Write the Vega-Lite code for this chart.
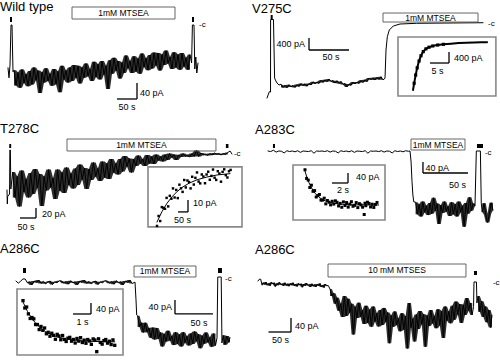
{
"$schema":"https://vega.github.io/schema/vega-lite/v6.json",
"padding":0,
"spacing":0,
"config":{"view":{"stroke":null},"font":"Liberation Sans","text":{"font":"Liberation Sans","color":"#000"},"line":{"strokeJoin":"round","strokeCap":"round"},"area":{"color":"#000","opacity":0.82}},
"datasets":{
"t1":[{"t":0,"i":-107},{"t":2.5,"i":-132},{"t":5,"i":-100},{"t":7.5,"i":0},{"t":10,"i":0},{"t":12.5,"i":-117},{"t":15,"i":-113},{"t":20,"i":-151},{"t":25,"i":-119},{"t":30,"i":-157},{"t":35,"i":-111},{"t":40,"i":-145},{"t":45,"i":-123},{"t":50,"i":-153},{"t":55,"i":-115},{"t":60,"i":-149},{"t":65,"i":-106},{"t":70,"i":-138},{"t":75,"i":-114},{"t":80,"i":-170},{"t":85,"i":-118},{"t":90,"i":-144},{"t":95,"i":-108},{"t":100,"i":-140},{"t":105,"i":-122},{"t":110,"i":-152},{"t":115,"i":-110},{"t":120,"i":-148},{"t":125,"i":-116},{"t":130,"i":-168},{"t":135,"i":-102},{"t":140,"i":-136},{"t":145,"i":-114},{"t":150,"i":-144},{"t":155,"i":-106},{"t":160,"i":-140},{"t":165,"i":-100},{"t":170,"i":-132},{"t":175,"i":-102},{"t":180,"i":-146},{"t":185,"i":-106},{"t":190,"i":-132},{"t":195,"i":-96},{"t":200,"i":-128},{"t":205,"i":-110},{"t":210,"i":-140},{"t":215,"i":-92},{"t":220,"i":-130},{"t":225,"i":-98},{"t":230,"i":-136},{"t":235,"i":-90},{"t":240,"i":-124},{"t":245,"i":-102},{"t":250,"i":-160},{"t":255,"i":-88},{"t":260,"i":-122},{"t":265,"i":-82},{"t":270,"i":-114},{"t":275,"i":-90},{"t":280,"i":-134},{"t":285,"i":-94},{"t":290,"i":-120},{"t":295,"i":-76},{"t":300,"i":-108},{"t":305,"i":-90},{"t":310,"i":-120},{"t":315,"i":-78},{"t":320,"i":-116},{"t":325,"i":-84},{"t":330,"i":-122},{"t":335,"i":-71},{"t":340,"i":-105},{"t":345,"i":-83},{"t":350,"i":-113},{"t":355,"i":-75},{"t":360,"i":-109},{"t":365,"i":-69},{"t":370,"i":-101},{"t":375,"i":-70},{"t":380,"i":-114},{"t":385,"i":-74},{"t":390,"i":-100},{"t":395,"i":-64},{"t":400,"i":-96},{"t":405,"i":-80},{"t":410,"i":-110},{"t":415,"i":-68},{"t":420,"i":-106},{"t":425,"i":-74},{"t":430,"i":-112},{"t":435,"i":-70},{"t":440,"i":-104},{"t":445,"i":-82},{"t":450,"i":-112},{"t":455,"i":-74},{"t":459,"i":-95},{"t":461,"i":0},{"t":465,"i":0},{"t":467,"i":-110},{"t":469.5,"i":-80},{"t":472,"i":-120},{"t":475,"i":-95}],
"a1":[{"r":"mk","t":5,"t2":10,"i":20,"i2":7.5},{"r":"mk","t":460,"t2":465,"i":20,"i2":7.5},{"r":"bx","t":160,"t2":417.5,"i":45,"i2":15},{"r":"sb","t":322.5,"t2":322.5,"i":-145,"i2":-185},{"r":"sb","t":272.5,"t2":322.5,"i":-185,"i2":-185},{"r":"name","t":-20,"i":35,"s":"Wild type"},{"r":"stim","t":288.75,"i":30,"s":"1mM MTSEA"},{"r":"amp","t":330,"i":-170,"s":"40 pA"},{"r":"time","t":297.5,"i":-205,"s":"50 s"},{"r":"c","t":477.5,"i":0,"s":"-c"}],
"t2":[{"t":0,"i":-2500},{"t":2.9,"i":-2290},{"t":4.4,"i":-2300},{"t":4.5,"i":117},{"t":8.1,"i":117},{"t":9.5,"i":-1833},{"t":10.5,"i":-1900},{"t":12.5,"i":-2000},{"t":15,"i":-2067},{"t":17.5,"i":-2040},{"t":20,"i":-2150},{"t":22.5,"i":-2075},{"t":25,"i":-2160},{"t":27.5,"i":-2055},{"t":30,"i":-2130},{"t":32.5,"i":-2080},{"t":35,"i":-2148},{"t":37.5,"i":-2052},{"t":40,"i":-2120},{"t":42.5,"i":-2018},{"t":45,"i":-2092},{"t":47.5,"i":-2026},{"t":50,"i":-2109},{"t":52.5,"i":-2013},{"t":55,"i":-2066},{"t":57.5,"i":-1960},{"t":60,"i":-2024},{"t":62.5,"i":-1964},{"t":65,"i":-2013},{"t":67.5,"i":-1907},{"t":70,"i":-1981},{"t":72.5,"i":-1891},{"t":75,"i":-1960},{"t":77.5,"i":-1866},{"t":80,"i":-1953},{"t":82.5,"i":-1914},{"t":85,"i":-2001},{"t":87.5,"i":-1922},{"t":90,"i":-2019},{"t":92.5,"i":-1946},{"t":95,"i":-2048},{"t":97.5,"i":-2015},{"t":100,"i":-2132},{"t":102.5,"i":-2030},{"t":105,"i":-2079},{"t":107.5,"i":-1967},{"t":110,"i":-2030},{"t":112.5,"i":-1968},{"t":115,"i":-2017},{"t":117.5,"i":-1910},{"t":120,"i":-1983},{"t":122.5,"i":-1890},{"t":125,"i":-1957},{"t":127.5,"i":-1834},{"t":130,"i":-1891},{"t":132.5,"i":-1823},{"t":135,"i":-1898},{"t":137.5,"i":-1808},{"t":140,"i":-1883},{"t":142.5,"i":-1788},{"t":145,"i":-1895},{"t":147.5,"i":-1843},{"t":148.75,"i":-900},{"t":150.4,"i":-457},{"t":152.9,"i":-233},{"t":157.9,"i":-100},{"t":166.25,"i":-33},{"t":187,"i":-10},{"t":270,"i":10}],
"a2":[{"r":"mk","t":4.6,"t2":7.1,"i":267,"i2":133},{"r":"bx","t":145,"t2":263.75,"i":333,"i2":33},{"r":"sb","t":52.5,"t2":52.5,"i":-500,"i2":-900},{"r":"sb","t":52.5,"t2":102.5,"i":-900,"i2":-900},{"r":"name","t":-18.75,"i":333,"s":"V275C"},{"r":"stim","t":204.4,"i":183,"s":"1mM MTSEA"},{"r":"amp","t":47.5,"i":-700,"s":"400 pA"},{"r":"time","t":80,"i":-1133,"s":"50 s"},{"r":"c","t":276.25,"i":-33,"s":"-c"}],
"i2":[{"r":"bx","t":-3.95,"t2":21.8,"i":182,"i2":-1963},{"r":"sb","t":9.47,"t2":9.47,"i":-364,"i2":-764},{"r":"sb","t":4.47,"t2":9.47,"i":-764,"i2":-764},{"r":"amp","t":10.8,"i":-582,"s":"400 pA"},{"r":"time","t":6.44,"i":-1055,"s":"5 s"}],
"f2":[{"t":0,"i":-1745},{"t":0.5,"i":-1350},{"t":1,"i":-1000},{"t":1.5,"i":-730},{"t":2,"i":-530},{"t":2.5,"i":-390},{"t":3,"i":-300},{"t":3.5,"i":-240},{"t":4,"i":-200},{"t":5,"i":-150},{"t":6,"i":-120},{"t":8,"i":-85},{"t":10,"i":-60},{"t":12,"i":-40},{"t":14,"i":-25},{"t":16,"i":-15},{"t":18,"i":-8},{"t":19.5,"i":-5}],
"s2":[{"t":0.3,"i":-1500},{"t":0.7,"i":-1200},{"t":1.1,"i":-940},{"t":1.6,"i":-690},{"t":2.1,"i":-500},{"t":2.7,"i":-350},{"t":3.4,"i":-250},{"t":4.2,"i":-190},{"t":5.2,"i":-145},{"t":6.5,"i":-110},{"t":8,"i":-85}],
"t3":[{"t":0,"i":-72},{"t":1,"i":-100},{"t":2,"i":-85},{"t":8,"i":-80},{"t":9,"i":8},{"t":10.5,"i":8},{"t":12,"i":-70},{"t":18,"i":-36},{"t":25,"i":-87},{"t":32,"i":-45},{"t":39,"i":-105},{"t":46,"i":-33},{"t":53,"i":-76},{"t":60,"i":-50},{"t":67,"i":-87},{"t":74,"i":-38},{"t":81,"i":-80},{"t":88,"i":-30},{"t":95,"i":-68},{"t":102,"i":-40},{"t":109,"i":-104},{"t":116,"i":-45},{"t":123,"i":-73},{"t":130,"i":-31},{"t":137,"i":-67},{"t":144,"i":-48},{"t":151,"i":-90},{"t":158,"i":-31},{"t":165,"i":-73},{"t":172,"i":-37},{"t":179,"i":-78},{"t":186,"i":-27},{"t":193,"i":-62},{"t":200,"i":-39},{"t":207,"i":-69},{"t":214,"i":-29},{"t":221,"i":-62},{"t":228,"i":-21},{"t":235,"i":-51},{"t":242,"i":-28},{"t":249,"i":-70},{"t":256,"i":-30},{"t":263,"i":-52},{"t":270,"i":-17},{"t":277,"i":-45},{"t":284,"i":-29},{"t":291,"i":-54},{"t":298,"i":-15},{"t":305,"i":-47},{"t":312,"i":-19},{"t":319,"i":-50},{"t":326,"i":-10},{"t":333,"i":-37},{"t":340,"i":-19},{"t":347,"i":-41},{"t":354,"i":-10},{"t":361,"i":-35},{"t":368,"i":-4},{"t":375,"i":-25},{"t":382,"i":-9},{"t":389,"i":-37},{"t":396,"i":-10},{"t":403,"i":-24},{"t":410,"i":-3},{"t":417,"i":-19},{"t":424,"i":-10},{"t":431,"i":-24},{"t":438,"i":-2},{"t":445,"i":-19},{"t":452,"i":-5},{"t":459,"i":-20},{"t":466,"i":-1},{"t":473,"i":-13},{"t":480,"i":-5},{"t":487,"i":-15},{"t":494,"i":-1},{"t":501,"i":-12},{"t":508,"i":1},{"t":515,"i":-7},{"t":522,"i":-1},{"t":529,"i":-12},{"t":536,"i":-2},{"t":543,"i":-6},{"t":550,"i":1},{"t":557,"i":-5},{"t":564,"i":-2},{"t":571,"i":-6},{"t":578,"i":1},{"t":585,"i":-5},{"t":592,"i":7},{"t":599,"i":-5},{"t":606,"i":2},{"t":613,"i":-2},{"t":620,"i":0},{"t":627,"i":-3},{"t":634,"i":1},{"t":641,"i":-2},{"t":648,"i":2},{"t":655,"i":-1},{"t":662,"i":1},{"t":669,"i":-2},{"t":676,"i":1},{"t":683,"i":-1},{"t":690,"i":3},{"t":697,"i":6},{"t":703,"i":0}],
"a3":[{"r":"mk","t":7,"t2":13,"i":20,"i2":12},{"r":"mk","t":684,"t2":692,"i":20,"i2":12},{"r":"bx","t":187.5,"t2":653,"i":30,"i2":6},{"r":"sb","t":90.6,"t2":90.6,"i":-108,"i2":-128},{"r":"sb","t":40.6,"t2":90.6,"i":-128,"i2":-128},{"r":"name","t":-21.875,"i":42,"s":"T278C"},{"r":"stim","t":420,"i":18,"s":"1mM MTSEA"},{"r":"amp","t":109,"i":-120,"s":"20 pA"},{"r":"time","t":59,"i":-146,"s":"50 s"},{"r":"c","t":709,"i":0,"s":"-c"}],
"i3":[{"r":"bx","t":-45,"t2":425,"i":4.2,"i2":-45.8},{"r":"sb","t":155,"t2":155,"i":-23.3,"i2":-33.3},{"r":"sb","t":105,"t2":155,"i":-33.3,"i2":-33.3},{"r":"amp","t":180,"i":-25.8,"s":"10 pA"},{"r":"time","t":127.5,"i":-40,"s":"50 s"}],
"f3":[{"t":0,"i":-41.7},{"t":25,"i":-33},{"t":50,"i":-26.1},{"t":75,"i":-20.7},{"t":100,"i":-16.4},{"t":130,"i":-12.4},{"t":160,"i":-9.4},{"t":200,"i":-6.5},{"t":250,"i":-4.2},{"t":300,"i":-2.5},{"t":365,"i":-1.4}],
"s3":[{"t":0,"i":-45},{"t":8,"i":-36.7},{"t":16,"i":-40.9},{"t":24,"i":-29.3},{"t":32,"i":-29.9},{"t":40,"i":-30.7},{"t":48,"i":-21.6},{"t":56,"i":-28.7},{"t":64,"i":-19.9},{"t":72,"i":-22.3},{"t":80,"i":-13.7},{"t":88,"i":-21.3},{"t":96,"i":-15},{"t":104,"i":-21.8},{"t":112,"i":-10.6},{"t":120,"i":-13.6},{"t":128,"i":-16.6},{"t":136,"i":-6.7},{"t":144,"i":-12.9},{"t":152,"i":-7.1},{"t":160,"i":-8.4},{"t":168,"i":-13.7},{"t":176,"i":-4},{"t":184,"i":-10.5},{"t":192,"i":-4.9},{"t":200,"i":-0.4},{"t":208,"i":-8},{"t":216,"i":-9.5},{"t":224,"i":-2.1},{"t":232,"i":-3.8},{"t":240,"i":-9.4},{"t":248,"i":-2.1},{"t":256,"i":0.2},{"t":264,"i":-6.5},{"t":272,"i":-3.3},{"t":280,"i":2},{"t":288,"i":-4.8},{"t":296,"i":-6.6},{"t":304,"i":0.6},{"t":312,"i":-1.3},{"t":320,"i":-8.1},{"t":328,"i":0.1},{"t":336,"i":2.2},{"t":344,"i":-2.7},{"t":352,"i":-4.6},{"t":360,"i":0.6},{"t":368,"i":1.7}],
"t4":[{"t":0,"i":0},{"t":3,"i":-2},{"t":6,"i":3},{"t":9,"i":-4},{"t":12,"i":0},{"t":15,"i":-1},{"t":18,"i":-7},{"t":21,"i":1},{"t":24,"i":-2},{"t":27,"i":0},{"t":30,"i":-3},{"t":33,"i":1},{"t":36,"i":-5},{"t":39,"i":0},{"t":42,"i":-1},{"t":45,"i":-2},{"t":48,"i":1},{"t":51,"i":-8},{"t":54,"i":0},{"t":57,"i":-1},{"t":60,"i":0},{"t":63,"i":-2},{"t":66,"i":1},{"t":69,"i":-4},{"t":72,"i":0},{"t":75,"i":-1},{"t":78,"i":-7},{"t":81,"i":1},{"t":84,"i":-2},{"t":87,"i":0},{"t":90,"i":-3},{"t":93,"i":1},{"t":96,"i":-5},{"t":99,"i":0},{"t":102,"i":-1},{"t":105,"i":-2},{"t":108,"i":1},{"t":111,"i":-8},{"t":114,"i":0},{"t":117,"i":-1},{"t":120,"i":0},{"t":123,"i":-2},{"t":126,"i":1},{"t":129,"i":-4},{"t":132,"i":0},{"t":135,"i":-1},{"t":138,"i":-7},{"t":141,"i":1},{"t":144,"i":-2},{"t":147,"i":0},{"t":150,"i":-3},{"t":153,"i":1},{"t":156,"i":-1},{"t":157.8,"i":0},{"t":159,"i":-40},{"t":160,"i":-110},{"t":161,"i":-160},{"t":162,"i":-185},{"t":164,"i":-186},{"t":166,"i":-230},{"t":168,"i":-194},{"t":170,"i":-238},{"t":172,"i":-184},{"t":174,"i":-223},{"t":176,"i":-199},{"t":178,"i":-233},{"t":180,"i":-189},{"t":182,"i":-228},{"t":184,"i":-170},{"t":186,"i":-217},{"t":188,"i":-191},{"t":190,"i":-265},{"t":192,"i":-197},{"t":194,"i":-225},{"t":196,"i":-184},{"t":198,"i":-220},{"t":200,"i":-202},{"t":202,"i":-236},{"t":204,"i":-186},{"t":206,"i":-230},{"t":208,"i":-194},{"t":210,"i":-238},{"t":212,"i":-184},{"t":214,"i":-223},{"t":216,"i":-199},{"t":218,"i":-275},{"t":220,"i":-189},{"t":222,"i":-228},{"t":224,"i":-168},{"t":226,"i":-217},{"t":228,"i":-191},{"t":230,"i":-200},{"t":231.5,"i":0},{"t":236,"i":0},{"t":237,"i":-190},{"t":238,"i":-222},{"t":240,"i":-190},{"t":242,"i":-232},{"t":244,"i":-260},{"t":246,"i":-228},{"t":248,"i":-188},{"t":250,"i":-215}],
"a4":[{"r":"mk","t":5.5,"t2":7.8,"i":25.5,"i2":10.9},{"r":"mk","t":232.2,"t2":238.9,"i":25.5,"i2":10.9},{"r":"bx","t":158.9,"t2":218.9,"i":43.6,"i2":3.6},{"r":"sb","t":172.2,"t2":172.2,"i":-40,"i2":-80},{"r":"sb","t":172.2,"t2":222.2,"i":-80,"i2":-80},{"r":"name","t":-14.4,"i":61.8,"s":"A283C"},{"r":"stim","t":188.9,"i":23.6,"s":"1mM MTSEA"},{"r":"amp","t":175,"i":-62,"s":"40 pA"},{"r":"time","t":210.5,"i":-124,"s":"50 s"},{"r":"c","t":241,"i":-7,"s":"-c"}],
"i4":[{"r":"bx","t":-1.5,"t2":10,"i":168,"i2":-52},{"r":"sb","t":5.375,"t2":5.375,"i":136,"i2":96},{"r":"sb","t":3.375,"t2":5.375,"i":96,"i2":96},{"r":"amp","t":6.375,"i":120,"s":"40 pA"},{"r":"time","t":4.75,"i":68,"s":"2 s"}],
"f4":[{"t":0,"i":143},{"t":0.25,"i":117.6},{"t":0.5,"i":97},{"t":0.75,"i":80.2},{"t":1,"i":66.7},{"t":1.25,"i":55.6},{"t":1.5,"i":46.7},{"t":2,"i":33.5},{"t":2.5,"i":24.9},{"t":3,"i":19.1},{"t":3.5,"i":15.3},{"t":4,"i":12.9},{"t":5,"i":10.1},{"t":6,"i":8.9},{"t":7,"i":8.4},{"t":8,"i":8.2},{"t":9.2,"i":8.1}],
"s4":[{"t":0,"i":149},{"t":0.2,"i":114.3},{"t":0.4,"i":107.8},{"t":0.6,"i":77.9},{"t":0.8,"i":87.3},{"t":1,"i":62.7},{"t":1.2,"i":65.7},{"t":1.4,"i":40},{"t":1.6,"i":45.6},{"t":1.8,"i":50.1},{"t":2,"i":27.5},{"t":2.2,"i":27.6},{"t":2.4,"i":35.3},{"t":2.6,"i":12.5},{"t":2.8,"i":26.1},{"t":3,"i":19.1},{"t":3.2,"i":8.4},{"t":3.4,"i":22.9},{"t":3.6,"i":11.7},{"t":3.8,"i":24.7},{"t":4,"i":18.8},{"t":4.2,"i":4.1},{"t":4.4,"i":14.5},{"t":4.6,"i":-1.1},{"t":4.8,"i":20.5},{"t":5,"i":6.1},{"t":5.2,"i":17.8},{"t":5.4,"i":-0.5},{"t":5.6,"i":11.3},{"t":5.8,"i":21.1},{"t":6,"i":2.9},{"t":6.2,"i":6.8},{"t":6.4,"i":17.7},{"t":6.6,"i":-2.4},{"t":6.8,"i":13.5},{"t":7,"i":8.4},{"t":7.2,"i":-0.8},{"t":7.4,"i":-30},{"t":7.5,"i":15.2},{"t":7.6,"i":5.2},{"t":7.8,"i":19.2},{"t":8,"i":14.2},{"t":8.2,"i":0.2},{"t":8.4,"i":11.2},{"t":8.6,"i":-1.8},{"t":8.8,"i":10.2},{"t":9,"i":18.2}],
"t5":[{"t":0,"i":-3},{"t":3,"i":-9},{"t":6,"i":-4},{"t":9,"i":3},{"t":12,"i":3},{"t":15,"i":-8},{"t":18,"i":-5},{"t":21,"i":-14},{"t":24,"i":-3},{"t":27,"i":-7},{"t":30,"i":0},{"t":33,"i":-10},{"t":36,"i":-4},{"t":39,"i":-11},{"t":42,"i":-6},{"t":45,"i":-3},{"t":48,"i":-13},{"t":51,"i":-5},{"t":54,"i":-8},{"t":57,"i":-2},{"t":60,"i":-3},{"t":63,"i":-9},{"t":66,"i":-4},{"t":69,"i":-12},{"t":72,"i":-2},{"t":75,"i":-8},{"t":78,"i":-5},{"t":81,"i":-14},{"t":84,"i":-3},{"t":87,"i":-7},{"t":90,"i":0},{"t":93,"i":-10},{"t":96,"i":-4},{"t":99,"i":-11},{"t":102,"i":-6},{"t":105,"i":-3},{"t":108,"i":-13},{"t":111,"i":-5},{"t":114,"i":-8},{"t":117,"i":-2},{"t":120,"i":-3},{"t":123,"i":-9},{"t":126,"i":-4},{"t":129,"i":-12},{"t":132,"i":-2},{"t":135,"i":-8},{"t":138,"i":-5},{"t":141,"i":-14},{"t":144,"i":-3},{"t":147,"i":-7},{"t":150,"i":0},{"t":153,"i":-10},{"t":156.6,"i":-6},{"t":157.9,"i":-57},{"t":158.8,"i":-100},{"t":160,"i":-102},{"t":162.5,"i":-134},{"t":165,"i":-122},{"t":167.5,"i":-150},{"t":170,"i":-122},{"t":172.5,"i":-149},{"t":175,"i":-137},{"t":177.5,"i":-165},{"t":180,"i":-136},{"t":182.5,"i":-170},{"t":185,"i":-137},{"t":187.5,"i":-168},{"t":190,"i":-150},{"t":192.5,"i":-190},{"t":195,"i":-154},{"t":197.5,"i":-176},{"t":200,"i":-145},{"t":202.5,"i":-173},{"t":205,"i":-160},{"t":207.5,"i":-186},{"t":210,"i":-149},{"t":212.5,"i":-183},{"t":215,"i":-156},{"t":217.5,"i":-190},{"t":220,"i":-149},{"t":222.5,"i":-179},{"t":225,"i":-161},{"t":227.5,"i":-187},{"t":230,"i":-153},{"t":232.5,"i":-183},{"t":235,"i":-147},{"t":237.5,"i":-175},{"t":240,"i":-155},{"t":242.5,"i":-195},{"t":245,"i":-159},{"t":247.5,"i":-182},{"t":250,"i":-150},{"t":252.5,"i":-178},{"t":255,"i":-164},{"t":257.5,"i":-191},{"t":260,"i":-153},{"t":262.5,"i":-187},{"t":264.5,"i":-165},{"t":265.5,"i":8.6},{"t":270,"i":8.6},{"t":271,"i":-180},{"t":272.5,"i":-158},{"t":275,"i":-185},{"t":277.5,"i":-160},{"t":280,"i":-178},{"t":281.5,"i":-165}],
"a5":[{"r":"mk","t":9.2,"t2":13.2,"i":34.3,"i2":20},{"r":"mk","t":265.8,"t2":271,"i":34.3,"i2":20},{"r":"bx","t":155.3,"t2":236.8,"i":40,"i2":8.6},{"r":"sb","t":209.2,"t2":209.2,"i":-57,"i2":-97},{"r":"sb","t":209.2,"t2":259.2,"i":-97,"i2":-97},{"r":"name","t":-21.05,"i":77.1,"s":"A286C"},{"r":"stim","t":196,"i":24.3,"s":"1mM MTSEA"},{"r":"amp","t":205.3,"i":-77,"s":"40 pA"},{"r":"time","t":240.8,"i":-123,"s":"50 s"},{"r":"c","t":275,"i":2.9,"s":"-c"}],
"i5":[{"r":"bx","t":-0.334,"t2":5.56,"i":192.9,"i2":-47.3},{"r":"sb","t":3.78,"t2":3.78,"i":142,"i2":102},{"r":"sb","t":2.78,"t2":3.78,"i":102,"i2":102},{"r":"amp","t":4.06,"i":120,"s":"40 pA"},{"r":"time","t":3.31,"i":72.8,"s":"1 s"}],
"f5":[{"t":0,"i":145.6},{"t":0.25,"i":111},{"t":0.5,"i":85},{"t":0.75,"i":65},{"t":1,"i":49.6},{"t":1.25,"i":38},{"t":1.5,"i":29},{"t":1.75,"i":22},{"t":2,"i":17},{"t":2.5,"i":9.9},{"t":3,"i":5.8},{"t":3.5,"i":3.4},{"t":4,"i":2},{"t":4.5,"i":1.2},{"t":5.1,"i":0.6}],
"s5":[{"t":0,"i":150.6},{"t":0.1,"i":123.8},{"t":0.2,"i":127.4},{"t":0.3,"i":102.4},{"t":0.4,"i":85.7},{"t":0.5,"i":89},{"t":0.6,"i":84.4},{"t":0.7,"i":63.6},{"t":0.8,"i":63.6},{"t":0.9,"i":45.3},{"t":1,"i":56.6},{"t":1.1,"i":42.6},{"t":1.2,"i":51},{"t":1.3,"i":30},{"t":1.4,"i":35.3},{"t":1.5,"i":21},{"t":1.6,"i":32},{"t":1.7,"i":24.4},{"t":1.8,"i":10},{"t":1.9,"i":27.9},{"t":2,"i":21.9},{"t":2.1,"i":8.2},{"t":2.2,"i":23.7},{"t":2.3,"i":9.3},{"t":2.4,"i":2},{"t":2.5,"i":13.9},{"t":2.6,"i":16.9},{"t":2.7,"i":3},{"t":2.8,"i":9.2},{"t":2.9,"i":-3.6},{"t":3,"i":12.8},{"t":3.1,"i":3.2},{"t":3.2,"i":15.7},{"t":3.3,"i":-1.8},{"t":3.4,"i":6.8},{"t":3.5,"i":-4.6},{"t":3.6,"i":9},{"t":3.7,"i":3.7},{"t":3.8,"i":-8.6},{"t":3.9,"i":11.2},{"t":4,"i":7},{"t":4.1,"i":-35},{"t":4.2,"i":11.6},{"t":4.3,"i":-1.6},{"t":4.4,"i":-7.7},{"t":4.5,"i":5.2},{"t":4.6,"i":9},{"t":4.7,"i":-4.1},{"t":4.8,"i":2.8},{"t":4.9,"i":-9.3},{"t":5,"i":7.7},{"t":5.1,"i":-12}],
"t6":[{"t":0,"i":3},{"t":3,"i":8},{"t":6,"i":8},{"t":9,"i":-9},{"t":12,"i":-2},{"t":15,"i":-7},{"t":18,"i":0},{"t":21,"i":-9},{"t":24,"i":-4},{"t":27,"i":-11},{"t":30,"i":-1},{"t":33,"i":-6},{"t":36,"i":-2},{"t":39,"i":-13},{"t":42,"i":-4},{"t":45,"i":-9},{"t":48,"i":-1},{"t":51,"i":-8},{"t":54,"i":-5},{"t":57,"i":-11},{"t":60,"i":-2},{"t":63,"i":-10},{"t":66,"i":-5},{"t":69,"i":-12},{"t":72,"i":-4},{"t":75,"i":-9},{"t":78,"i":-2},{"t":81,"i":-11},{"t":84,"i":-6},{"t":87,"i":-13},{"t":90,"i":-4},{"t":93,"i":-9},{"t":96,"i":-5},{"t":99,"i":-15},{"t":102,"i":-6},{"t":105,"i":-11},{"t":108,"i":-3},{"t":111,"i":-10},{"t":114,"i":-7},{"t":117,"i":-14},{"t":120,"i":-5},{"t":123,"i":-12},{"t":126,"i":-7},{"t":129,"i":-14},{"t":132,"i":-6},{"t":135,"i":-11},{"t":138,"i":-4},{"t":141,"i":-14},{"t":144,"i":-9},{"t":147,"i":-16},{"t":150,"i":-6},{"t":153,"i":-11},{"t":156,"i":-10},{"t":160,"i":-20},{"t":164,"i":-40},{"t":168,"i":-32},{"t":172,"i":-62},{"t":176,"i":-45},{"t":180,"i":-82},{"t":184,"i":-62},{"t":188,"i":-100},{"t":192,"i":-40},{"t":196,"i":-97},{"t":200,"i":-48},{"t":204,"i":-88},{"t":208,"i":-62},{"t":212,"i":-150},{"t":216,"i":-71},{"t":220,"i":-103},{"t":224,"i":-59},{"t":228,"i":-100},{"t":232,"i":-81},{"t":236,"i":-120},{"t":240,"i":-68},{"t":244,"i":-117},{"t":248,"i":-79},{"t":252,"i":-128},{"t":256,"i":-70},{"t":260,"i":-113},{"t":264,"i":-89},{"t":268,"i":-127},{"t":272,"i":-80},{"t":276,"i":-123},{"t":280,"i":-74},{"t":284,"i":-114},{"t":288,"i":-87},{"t":292,"i":-175},{"t":296,"i":-96},{"t":300,"i":-128},{"t":304,"i":-84},{"t":308,"i":-123},{"t":312,"i":-104},{"t":316,"i":-141},{"t":320,"i":-89},{"t":324,"i":-136},{"t":328,"i":-98},{"t":332,"i":-190},{"t":336,"i":-60},{"t":340,"i":-130},{"t":344,"i":-105},{"t":348,"i":-170},{"t":352,"i":-93},{"t":356,"i":-134},{"t":360,"i":-83},{"t":364,"i":-121},{"t":368,"i":-92},{"t":372,"i":-185},{"t":376,"i":-96},{"t":380,"i":-126},{"t":384,"i":-80},{"t":388,"i":-118},{"t":392,"i":-97},{"t":396,"i":-132},{"t":400,"i":-78},{"t":404,"i":-124},{"t":408,"i":-83},{"t":412,"i":-160},{"t":416,"i":-70},{"t":420,"i":-110},{"t":424,"i":-84},{"t":428,"i":-118},{"t":432,"i":-68},{"t":436,"i":-108},{"t":440,"i":-56},{"t":444,"i":-93},{"t":448,"i":-63},{"t":452,"i":-117},{"t":456,"i":-65},{"t":460,"i":-94},{"t":464,"i":-46},{"t":468,"i":-82},{"t":472,"i":-60},{"t":476,"i":-94},{"t":479,"i":-70},{"t":480,"i":0},{"t":485.5,"i":0},{"t":486.5,"i":-60},{"t":489,"i":-40},{"t":493,"i":-85},{"t":497,"i":-55},{"t":501,"i":-100},{"t":505,"i":-70},{"t":509,"i":-115},{"t":513,"i":-80},{"t":517,"i":-130},{"t":520,"i":-95}],
"a6":[{"r":"mk","t":480,"t2":486.7,"i":31.4,"i2":20},{"r":"bx","t":155.6,"t2":462.2,"i":51.4,"i2":14.3},{"r":"sb","t":73.3,"t2":73.3,"i":-102.9,"i2":-142.9},{"r":"sb","t":23.3,"t2":73.3,"i":-142.9,"i2":-142.9},{"r":"name","t":-6.7,"i":80,"s":"A286C"},{"r":"stim","t":308.9,"i":32.9,"s":"10 mM MTSES"},{"r":"amp","t":82.2,"i":-125.7,"s":"40 pA"},{"r":"time","t":50,"i":-165.7,"s":"50 s"},{"r":"c","t":522,"i":-2.9,"s":"-c"}]
},
"vconcat":[
{"hconcat":[
{"width":250,"height":120,
 "encoding":{"x":{"field":"t","type":"quantitative","scale":{"domain":[-20,605],"nice":false,"zero":false},"axis":null},"y":{"field":"i","type":"quantitative","scale":{"domain":[-237.5,62.5],"nice":false,"zero":false},"axis":null}},
 "layer":[
  {"data":{"name":"t1"},"transform":[{"filter":"datum.t>=15 && datum.t<=455"},{"window":[{"op":"min","field":"i","as":"lo"},{"op":"max","field":"i","as":"hi"}],"frame":[-1,1],"sort":[{"field":"t"}]}],"mark":{"type":"area"},"encoding":{"y":{"field":"lo","type":"quantitative","scale":{"domain":[-237.5,62.5],"nice":false,"zero":false},"axis":null},"y2":{"field":"hi"}}},
  {"data":{"name":"t1"},"mark":{"type":"line","color":"#000","strokeWidth":1}},
  {"data":{"name":"a1"},"transform":[{"filter":"datum.r=='mk'"}],"mark":{"type":"rect","color":"#000"},"encoding":{"x2":{"field":"t2"},"y2":{"field":"i2"}}},
  {"data":{"name":"a1"},"transform":[{"filter":"datum.r=='bx'"}],"mark":{"type":"rect","fill":"transparent","stroke":"#555","strokeWidth":0.9},"encoding":{"x2":{"field":"t2"},"y2":{"field":"i2"}}},
  {"data":{"name":"a1"},"transform":[{"filter":"datum.r=='sb'"}],"mark":{"type":"rule","color":"#000","strokeWidth":1.3},"encoding":{"x2":{"field":"t2"},"y2":{"field":"i2"}}},
  {"data":{"name":"a1"},"transform":[{"filter":"datum.r=='name'"}],"mark":{"type":"text","fontSize":13,"align":"left","baseline":"alphabetic"},"encoding":{"text":{"field":"s"}}},
  {"data":{"name":"a1"},"transform":[{"filter":"datum.r=='stim'"}],"mark":{"type":"text","fontSize":8.5,"align":"center","baseline":"middle"},"encoding":{"text":{"field":"s"}}},
  {"data":{"name":"a1"},"transform":[{"filter":"datum.r=='amp'"}],"mark":{"type":"text","fontSize":9,"align":"left","baseline":"middle"},"encoding":{"text":{"field":"s"}}},
  {"data":{"name":"a1"},"transform":[{"filter":"datum.r=='time'"}],"mark":{"type":"text","fontSize":9,"align":"center","baseline":"middle"},"encoding":{"text":{"field":"s"}}},
  {"data":{"name":"a1"},"transform":[{"filter":"datum.r=='c'"}],"mark":{"type":"text","fontSize":8,"align":"left","baseline":"middle"},"encoding":{"text":{"field":"s"}}}
 ]},
{"width":250,"height":120,
 "resolve":{"scale":{"x":"independent","y":"independent"}},
 "layer":[
  {"encoding":{"x":{"field":"t","type":"quantitative","scale":{"domain":[-21.25,291.25],"nice":false,"zero":false},"axis":null},"y":{"field":"i","type":"quantitative","scale":{"domain":[-3233,767],"nice":false,"zero":false},"axis":null}},
   "layer":[
    {"data":{"name":"t2"},"transform":[{"filter":"datum.t>=17.5 && datum.t<=145"},{"window":[{"op":"min","field":"i","as":"lo"},{"op":"max","field":"i","as":"hi"}],"frame":[0,1],"sort":[{"field":"t"}]}],"mark":{"type":"area"},"encoding":{"y":{"field":"lo","type":"quantitative","scale":{"domain":[-3233,767],"nice":false,"zero":false},"axis":null},"y2":{"field":"hi"}}},
    {"data":{"name":"t2"},"mark":{"type":"line","color":"#000","strokeWidth":1}},
    {"data":{"name":"a2"},"transform":[{"filter":"datum.r=='mk'"}],"mark":{"type":"rect","color":"#000"},"encoding":{"x2":{"field":"t2"},"y2":{"field":"i2"}}},
    {"data":{"name":"a2"},"transform":[{"filter":"datum.r=='bx'"}],"mark":{"type":"rect","fill":"transparent","stroke":"#555","strokeWidth":0.9},"encoding":{"x2":{"field":"t2"},"y2":{"field":"i2"}}},
    {"data":{"name":"a2"},"transform":[{"filter":"datum.r=='sb'"}],"mark":{"type":"rule","color":"#000","strokeWidth":1.3},"encoding":{"x2":{"field":"t2"},"y2":{"field":"i2"}}},
    {"data":{"name":"a2"},"transform":[{"filter":"datum.r=='name'"}],"mark":{"type":"text","fontSize":13,"align":"left","baseline":"alphabetic"},"encoding":{"text":{"field":"s"}}},
    {"data":{"name":"a2"},"transform":[{"filter":"datum.r=='stim'"}],"mark":{"type":"text","fontSize":8.5,"align":"center","baseline":"middle"},"encoding":{"text":{"field":"s"}}},
    {"data":{"name":"a2"},"transform":[{"filter":"datum.r=='amp'"}],"mark":{"type":"text","fontSize":9,"align":"right","baseline":"middle"},"encoding":{"text":{"field":"s"}}},
    {"data":{"name":"a2"},"transform":[{"filter":"datum.r=='time'"}],"mark":{"type":"text","fontSize":9,"align":"center","baseline":"middle"},"encoding":{"text":{"field":"s"}}},
    {"data":{"name":"a2"},"transform":[{"filter":"datum.r=='c'"}],"mark":{"type":"text","fontSize":8,"align":"left","baseline":"middle"},"encoding":{"text":{"field":"s"}}}
   ]},
  {"encoding":{"x":{"field":"t","type":"quantitative","scale":{"domain":[-42.87,22.88],"nice":false,"zero":false},"axis":null},"y":{"field":"i","type":"quantitative","scale":{"domain":[-2836,1527],"nice":false,"zero":false},"axis":null}},
   "layer":[
    {"data":{"name":"i2"},"transform":[{"filter":"datum.r=='bx'"}],"mark":{"type":"rect","fill":"transparent","stroke":"#888","strokeWidth":1.6},"encoding":{"x2":{"field":"t2"},"y2":{"field":"i2"}}},
    {"data":{"name":"f2"},"mark":{"type":"line","color":"#000","strokeWidth":2}},
    {"data":{"name":"s2"},"mark":{"type":"square","color":"#000","size":10,"opacity":1}},
    {"data":{"name":"i2"},"transform":[{"filter":"datum.r=='sb'"}],"mark":{"type":"rule","color":"#000","strokeWidth":1.3},"encoding":{"x2":{"field":"t2"},"y2":{"field":"i2"}}},
    {"data":{"name":"i2"},"transform":[{"filter":"datum.r=='amp'"}],"mark":{"type":"text","fontSize":9,"align":"left","baseline":"middle"},"encoding":{"text":{"field":"s"}}},
    {"data":{"name":"i2"},"transform":[{"filter":"datum.r=='time'"}],"mark":{"type":"text","fontSize":9,"align":"center","baseline":"middle"},"encoding":{"text":{"field":"s"}}}
   ]}
 ]}
],"spacing":0},
{"hconcat":[
{"width":250,"height":120,
 "resolve":{"scale":{"x":"independent","y":"independent"}},
 "layer":[
  {"encoding":{"x":{"field":"t","type":"quantitative","scale":{"domain":[-21.875,759.375],"nice":false,"zero":false},"axis":null},"y":{"field":"i","type":"quantitative","scale":{"domain":[-172,68],"nice":false,"zero":false},"axis":null}},
   "layer":[
    {"data":{"name":"t3"},"transform":[{"filter":"datum.t>=18 && datum.t<=690"},{"window":[{"op":"min","field":"i","as":"lo"},{"op":"max","field":"i","as":"hi"}],"frame":[-1,1],"sort":[{"field":"t"}]}],"mark":{"type":"area"},"encoding":{"y":{"field":"lo","type":"quantitative","scale":{"domain":[-172,68],"nice":false,"zero":false},"axis":null},"y2":{"field":"hi"}}},
    {"data":{"name":"t3"},"mark":{"type":"line","color":"#000","strokeWidth":1}},
    {"data":{"name":"a3"},"transform":[{"filter":"datum.r=='mk'"}],"mark":{"type":"rect","color":"#000"},"encoding":{"x2":{"field":"t2"},"y2":{"field":"i2"}}},
    {"data":{"name":"a3"},"transform":[{"filter":"datum.r=='bx'"}],"mark":{"type":"rect","fill":"transparent","stroke":"#555","strokeWidth":0.9},"encoding":{"x2":{"field":"t2"},"y2":{"field":"i2"}}},
    {"data":{"name":"a3"},"transform":[{"filter":"datum.r=='sb'"}],"mark":{"type":"rule","color":"#000","strokeWidth":1.3},"encoding":{"x2":{"field":"t2"},"y2":{"field":"i2"}}},
    {"data":{"name":"a3"},"transform":[{"filter":"datum.r=='name'"}],"mark":{"type":"text","fontSize":13,"align":"left","baseline":"alphabetic"},"encoding":{"text":{"field":"s"}}},
    {"data":{"name":"a3"},"transform":[{"filter":"datum.r=='stim'"}],"mark":{"type":"text","fontSize":8.5,"align":"center","baseline":"middle"},"encoding":{"text":{"field":"s"}}},
    {"data":{"name":"a3"},"transform":[{"filter":"datum.r=='amp'"}],"mark":{"type":"text","fontSize":9,"align":"left","baseline":"middle"},"encoding":{"text":{"field":"s"}}},
    {"data":{"name":"a3"},"transform":[{"filter":"datum.r=='time'"}],"mark":{"type":"text","fontSize":9,"align":"center","baseline":"middle"},"encoding":{"text":{"field":"s"}}},
    {"data":{"name":"a3"},"transform":[{"filter":"datum.r=='c'"}],"mark":{"type":"text","fontSize":8,"align":"left","baseline":"middle"},"encoding":{"text":{"field":"s"}}}
   ]},
  {"encoding":{"x":{"field":"t","type":"quantitative","scale":{"domain":[-785,465],"nice":false,"zero":false},"axis":null},"y":{"field":"i","type":"quantitative","scale":{"domain":[-56.7,43.3],"nice":false,"zero":false},"axis":null}},
   "layer":[
    {"data":{"name":"i3"},"transform":[{"filter":"datum.r=='bx'"}],"mark":{"type":"rect","fill":"white","stroke":"#888","strokeWidth":1.6},"encoding":{"x2":{"field":"t2"},"y2":{"field":"i2"}}},
    {"data":{"name":"f3"},"mark":{"type":"line","color":"#000","strokeWidth":1}},
    {"data":{"name":"s3"},"mark":{"type":"square","color":"#000","size":6,"opacity":1}},
    {"data":{"name":"i3"},"transform":[{"filter":"datum.r=='sb'"}],"mark":{"type":"rule","color":"#000","strokeWidth":1.3},"encoding":{"x2":{"field":"t2"},"y2":{"field":"i2"}}},
    {"data":{"name":"i3"},"transform":[{"filter":"datum.r=='amp'"}],"mark":{"type":"text","fontSize":9,"align":"left","baseline":"middle"},"encoding":{"text":{"field":"s"}}},
    {"data":{"name":"i3"},"transform":[{"filter":"datum.r=='time'"}],"mark":{"type":"text","fontSize":9,"align":"center","baseline":"middle"},"encoding":{"text":{"field":"s"}}}
   ]}
 ]},
{"width":250,"height":120,
 "resolve":{"scale":{"x":"independent","y":"independent"}},
 "layer":[
  {"encoding":{"x":{"field":"t","type":"quantitative","scale":{"domain":[-20,257.8],"nice":false,"zero":false},"axis":null},"y":{"field":"i","type":"quantitative","scale":{"domain":[-323.6,112.7],"nice":false,"zero":false},"axis":null}},
   "layer":[
    {"data":{"name":"t4"},"transform":[{"filter":"datum.t>=164 && datum.t<=230"},{"window":[{"op":"min","field":"i","as":"lo"},{"op":"max","field":"i","as":"hi"}],"frame":[-1,1],"sort":[{"field":"t"}]}],"mark":{"type":"area"},"encoding":{"y":{"field":"lo","type":"quantitative","scale":{"domain":[-323.6,112.7],"nice":false,"zero":false},"axis":null},"y2":{"field":"hi"}}},
    {"data":{"name":"t4"},"transform":[{"filter":"datum.t>=238 && datum.t<=250"},{"window":[{"op":"min","field":"i","as":"lo"},{"op":"max","field":"i","as":"hi"}],"frame":[-1,1],"sort":[{"field":"t"}]}],"mark":{"type":"area"},"encoding":{"y":{"field":"lo","type":"quantitative","scale":{"domain":[-323.6,112.7],"nice":false,"zero":false},"axis":null},"y2":{"field":"hi"}}},
    {"data":{"name":"t4"},"mark":{"type":"line","color":"#000","strokeWidth":1}},
    {"data":{"name":"a4"},"transform":[{"filter":"datum.r=='mk'"}],"mark":{"type":"rect","color":"#000"},"encoding":{"x2":{"field":"t2"},"y2":{"field":"i2"}}},
    {"data":{"name":"a4"},"transform":[{"filter":"datum.r=='bx'"}],"mark":{"type":"rect","fill":"transparent","stroke":"#555","strokeWidth":0.9},"encoding":{"x2":{"field":"t2"},"y2":{"field":"i2"}}},
    {"data":{"name":"a4"},"transform":[{"filter":"datum.r=='sb'"}],"mark":{"type":"rule","color":"#000","strokeWidth":1.3},"encoding":{"x2":{"field":"t2"},"y2":{"field":"i2"}}},
    {"data":{"name":"a4"},"transform":[{"filter":"datum.r=='name'"}],"mark":{"type":"text","fontSize":13,"align":"left","baseline":"alphabetic"},"encoding":{"text":{"field":"s"}}},
    {"data":{"name":"a4"},"transform":[{"filter":"datum.r=='stim'"}],"mark":{"type":"text","fontSize":8.5,"align":"center","baseline":"middle"},"encoding":{"text":{"field":"s"}}},
    {"data":{"name":"a4"},"transform":[{"filter":"datum.r=='amp'"}],"mark":{"type":"text","fontSize":9,"align":"left","baseline":"middle"},"encoding":{"text":{"field":"s"}}},
    {"data":{"name":"a4"},"transform":[{"filter":"datum.r=='time'"}],"mark":{"type":"text","fontSize":9,"align":"center","baseline":"middle"},"encoding":{"text":{"field":"s"}}},
    {"data":{"name":"a4"},"transform":[{"filter":"datum.r=='c'"}],"mark":{"type":"text","fontSize":8,"align":"left","baseline":"middle"},"encoding":{"text":{"field":"s"}}}
   ]},
  {"encoding":{"x":{"field":"t","type":"quantitative","scale":{"domain":[-6.875,24.375],"nice":false,"zero":false},"axis":null},"y":{"field":"i","type":"quantitative","scale":{"domain":[-132,348],"nice":false,"zero":false},"axis":null}},
   "layer":[
    {"data":{"name":"i4"},"transform":[{"filter":"datum.r=='bx'"}],"mark":{"type":"rect","fill":"transparent","stroke":"#888","strokeWidth":1.6},"encoding":{"x2":{"field":"t2"},"y2":{"field":"i2"}}},
    {"data":{"name":"f4"},"mark":{"type":"line","color":"#000","strokeWidth":1}},
    {"data":{"name":"s4"},"mark":{"type":"square","color":"#000","size":9,"opacity":1}},
    {"data":{"name":"i4"},"transform":[{"filter":"datum.r=='sb'"}],"mark":{"type":"rule","color":"#000","strokeWidth":1.3},"encoding":{"x2":{"field":"t2"},"y2":{"field":"i2"}}},
    {"data":{"name":"i4"},"transform":[{"filter":"datum.r=='amp'"}],"mark":{"type":"text","fontSize":9,"align":"left","baseline":"middle"},"encoding":{"text":{"field":"s"}}},
    {"data":{"name":"i4"},"transform":[{"filter":"datum.r=='time'"}],"mark":{"type":"text","fontSize":9,"align":"center","baseline":"middle"},"encoding":{"text":{"field":"s"}}}
   ]}
 ]}
],"spacing":0},
{"hconcat":[
{"width":250,"height":120,
 "resolve":{"scale":{"x":"independent","y":"independent"}},
 "layer":[
  {"encoding":{"x":{"field":"t","type":"quantitative","scale":{"domain":[-21.05,307.9],"nice":false,"zero":false},"axis":null},"y":{"field":"i","type":"quantitative","scale":{"domain":[-228.6,114.3],"nice":false,"zero":false},"axis":null}},
   "layer":[
    {"data":{"name":"t5"},"transform":[{"filter":"datum.t>=15 && datum.t<=153"},{"window":[{"op":"min","field":"i","as":"lo"},{"op":"max","field":"i","as":"hi"}],"frame":[0,1],"sort":[{"field":"t"}]}],"mark":{"type":"area"},"encoding":{"y":{"field":"lo","type":"quantitative","scale":{"domain":[-228.6,114.3],"nice":false,"zero":false},"axis":null},"y2":{"field":"hi"}}},
    {"data":{"name":"t5"},"transform":[{"filter":"datum.t>=160 && datum.t<=262.5"},{"window":[{"op":"min","field":"i","as":"lo"},{"op":"max","field":"i","as":"hi"}],"frame":[-1,1],"sort":[{"field":"t"}]}],"mark":{"type":"area"},"encoding":{"y":{"field":"lo","type":"quantitative","scale":{"domain":[-228.6,114.3],"nice":false,"zero":false},"axis":null},"y2":{"field":"hi"}}},
    {"data":{"name":"t5"},"transform":[{"filter":"datum.t>=272.5"},{"window":[{"op":"min","field":"i","as":"lo"},{"op":"max","field":"i","as":"hi"}],"frame":[-1,1],"sort":[{"field":"t"}]}],"mark":{"type":"area"},"encoding":{"y":{"field":"lo","type":"quantitative","scale":{"domain":[-228.6,114.3],"nice":false,"zero":false},"axis":null},"y2":{"field":"hi"}}},
    {"data":{"name":"t5"},"mark":{"type":"line","color":"#000","strokeWidth":1}},
    {"data":{"name":"a5"},"transform":[{"filter":"datum.r=='mk'"}],"mark":{"type":"rect","color":"#000"},"encoding":{"x2":{"field":"t2"},"y2":{"field":"i2"}}},
    {"data":{"name":"a5"},"transform":[{"filter":"datum.r=='bx'"}],"mark":{"type":"rect","fill":"transparent","stroke":"#555","strokeWidth":0.9},"encoding":{"x2":{"field":"t2"},"y2":{"field":"i2"}}},
    {"data":{"name":"a5"},"transform":[{"filter":"datum.r=='sb'"}],"mark":{"type":"rule","color":"#000","strokeWidth":1.3},"encoding":{"x2":{"field":"t2"},"y2":{"field":"i2"}}},
    {"data":{"name":"a5"},"transform":[{"filter":"datum.r=='name'"}],"mark":{"type":"text","fontSize":13,"align":"left","baseline":"alphabetic"},"encoding":{"text":{"field":"s"}}},
    {"data":{"name":"a5"},"transform":[{"filter":"datum.r=='stim'"}],"mark":{"type":"text","fontSize":8.5,"align":"center","baseline":"middle"},"encoding":{"text":{"field":"s"}}},
    {"data":{"name":"a5"},"transform":[{"filter":"datum.r=='amp'"}],"mark":{"type":"text","fontSize":9,"align":"right","baseline":"middle"},"encoding":{"text":{"field":"s"}}},
    {"data":{"name":"a5"},"transform":[{"filter":"datum.r=='time'"}],"mark":{"type":"text","fontSize":9,"align":"center","baseline":"middle"},"encoding":{"text":{"field":"s"}}},
    {"data":{"name":"a5"},"transform":[{"filter":"datum.r=='c'"}],"mark":{"type":"text","fontSize":8,"align":"left","baseline":"middle"},"encoding":{"text":{"field":"s"}}}
   ]},
  {"encoding":{"x":{"field":"t","type":"quantitative","scale":{"domain":[-1.279,12.62],"nice":false,"zero":false},"axis":null},"y":{"field":"i","type":"quantitative","scale":{"domain":[-65.5,371.3],"nice":false,"zero":false},"axis":null}},
   "layer":[
    {"data":{"name":"i5"},"transform":[{"filter":"datum.r=='bx'"}],"mark":{"type":"rect","fill":"transparent","stroke":"#888","strokeWidth":1.6},"encoding":{"x2":{"field":"t2"},"y2":{"field":"i2"}}},
    {"data":{"name":"f5"},"mark":{"type":"line","color":"#000","strokeWidth":1}},
    {"data":{"name":"s5"},"mark":{"type":"square","color":"#000","size":11,"opacity":1}},
    {"data":{"name":"i5"},"transform":[{"filter":"datum.r=='sb'"}],"mark":{"type":"rule","color":"#000","strokeWidth":1.3},"encoding":{"x2":{"field":"t2"},"y2":{"field":"i2"}}},
    {"data":{"name":"i5"},"transform":[{"filter":"datum.r=='amp'"}],"mark":{"type":"text","fontSize":9,"align":"left","baseline":"middle"},"encoding":{"text":{"field":"s"}}},
    {"data":{"name":"i5"},"transform":[{"filter":"datum.r=='time'"}],"mark":{"type":"text","fontSize":9,"align":"center","baseline":"middle"},"encoding":{"text":{"field":"s"}}}
   ]}
 ]},
{"width":250,"height":120,
 "encoding":{"x":{"field":"t","type":"quantitative","scale":{"domain":[-17.8,537.8],"nice":false,"zero":false},"axis":null},"y":{"field":"i","type":"quantitative","scale":{"domain":[-222.9,120],"nice":false,"zero":false},"axis":null}},
 "layer":[
  {"data":{"name":"t6"},"transform":[{"filter":"datum.t>=9 && datum.t<=156"},{"window":[{"op":"min","field":"i","as":"lo"},{"op":"max","field":"i","as":"hi"}],"frame":[0,1],"sort":[{"field":"t"}]}],"mark":{"type":"area"},"encoding":{"y":{"field":"lo","type":"quantitative","scale":{"domain":[-222.9,120],"nice":false,"zero":false},"axis":null},"y2":{"field":"hi"}}},
  {"data":{"name":"t6"},"transform":[{"filter":"datum.t>=160 && datum.t<=476"},{"window":[{"op":"min","field":"i","as":"lo"},{"op":"max","field":"i","as":"hi"}],"frame":[-1,1],"sort":[{"field":"t"}]}],"mark":{"type":"area"},"encoding":{"y":{"field":"lo","type":"quantitative","scale":{"domain":[-222.9,120],"nice":false,"zero":false},"axis":null},"y2":{"field":"hi"}}},
  {"data":{"name":"t6"},"transform":[{"filter":"datum.t>=489"},{"window":[{"op":"min","field":"i","as":"lo"},{"op":"max","field":"i","as":"hi"}],"frame":[-1,1],"sort":[{"field":"t"}]}],"mark":{"type":"area"},"encoding":{"y":{"field":"lo","type":"quantitative","scale":{"domain":[-222.9,120],"nice":false,"zero":false},"axis":null},"y2":{"field":"hi"}}},
  {"data":{"name":"t6"},"mark":{"type":"line","color":"#000","strokeWidth":1}},
  {"data":{"name":"a6"},"transform":[{"filter":"datum.r=='mk'"}],"mark":{"type":"rect","color":"#000"},"encoding":{"x2":{"field":"t2"},"y2":{"field":"i2"}}},
  {"data":{"name":"a6"},"transform":[{"filter":"datum.r=='bx'"}],"mark":{"type":"rect","fill":"transparent","stroke":"#555","strokeWidth":0.9},"encoding":{"x2":{"field":"t2"},"y2":{"field":"i2"}}},
  {"data":{"name":"a6"},"transform":[{"filter":"datum.r=='sb'"}],"mark":{"type":"rule","color":"#000","strokeWidth":1.3},"encoding":{"x2":{"field":"t2"},"y2":{"field":"i2"}}},
  {"data":{"name":"a6"},"transform":[{"filter":"datum.r=='name'"}],"mark":{"type":"text","fontSize":13,"align":"left","baseline":"alphabetic"},"encoding":{"text":{"field":"s"}}},
  {"data":{"name":"a6"},"transform":[{"filter":"datum.r=='stim'"}],"mark":{"type":"text","fontSize":8.5,"align":"center","baseline":"middle"},"encoding":{"text":{"field":"s"}}},
  {"data":{"name":"a6"},"transform":[{"filter":"datum.r=='amp'"}],"mark":{"type":"text","fontSize":9,"align":"left","baseline":"middle"},"encoding":{"text":{"field":"s"}}},
  {"data":{"name":"a6"},"transform":[{"filter":"datum.r=='time'"}],"mark":{"type":"text","fontSize":9,"align":"center","baseline":"middle"},"encoding":{"text":{"field":"s"}}},
  {"data":{"name":"a6"},"transform":[{"filter":"datum.r=='c'"}],"mark":{"type":"text","fontSize":8,"align":"left","baseline":"middle"},"encoding":{"text":{"field":"s"}}}
 ]}
],"spacing":0}
]
}
